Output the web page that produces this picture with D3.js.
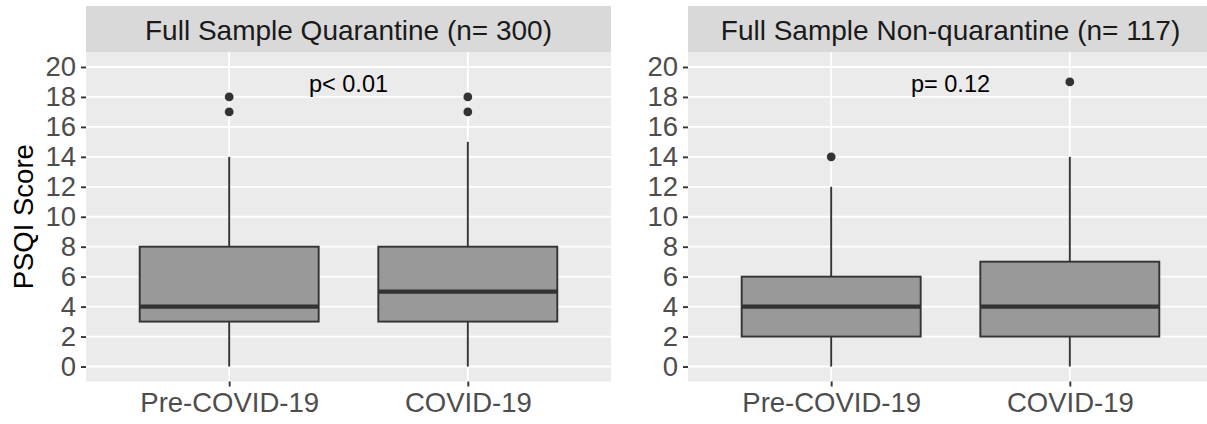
<!DOCTYPE html>
<html>
<head>
<meta charset="utf-8">
<script src="https://cdn.jsdelivr.net/npm/d3@7"></script>
<style>
  html, body { margin: 0; padding: 0; background: #ffffff; }
  svg { display: block; }
</style>
</head>
<body>
<div id="chart"></div>
<script>
// ---------- data ----------
const categories = ["Pre-COVID-19", "COVID-19"];
const panelTitles = ["Full Sample Quarantine (n= 300)", "Full Sample Non-quarantine (n= 117)"];
const pLabels = ["p< 0.01", "p= 0.12"];
const yTicks = [0, 2, 4, 6, 8, 10, 12, 14, 16, 18, 20];
const yTitle = "PSQI Score";

// Quarantine panel (per category)
const quarLow     = [0, 0];
const quarQ1      = [3, 3];
const quarMedian  = [4, 5];
const quarQ3      = [8, 8];
const quarHigh    = [14, 15];
const quarOutliers = [[17, 18], [17, 18]];

// Non-quarantine panel (per category)
const nonqLow     = [0, 0];
const nonqQ1      = [2, 2];
const nonqMedian  = [4, 4];
const nonqQ3      = [6, 7];
const nonqHigh    = [12, 14];
const nonqOutliers = [[14], [19]];

const pLabelY = 19;

// ---------- layout ----------
const W = 1207, H = 424;
const panels = [
  { x0: 86, x1: 611, title: panelTitles[0], p: pLabels[0],
    low: quarLow, q1: quarQ1, med: quarMedian, q3: quarQ3, high: quarHigh, out: quarOutliers },
  { x0: 688, x1: 1213, title: panelTitles[1], p: pLabels[1],
    low: nonqLow, q1: nonqQ1, med: nonqMedian, q3: nonqQ3, high: nonqHigh, out: nonqOutliers }
];
const stripTop = 6, stripBottom = 52, panelBottom = 381.5;

const svg = d3.select("#chart").append("svg")
  .attr("width", W).attr("height", H)
  .style("font-family", "'Liberation Sans', Arial, sans-serif");

const y = d3.scaleLinear().domain([-1, 21]).range([panelBottom, stripBottom]);

const textGrey = "#4d4d4d";
const dark = "#333333";
const lw = 1.9;

panels.forEach(pn => {
  const x = d3.scalePoint().domain(categories).range([pn.x0, pn.x1]).padding(0.6);
  const step = x.step();
  const bw = step * 0.75;
  const g = svg.append("g");

  // strip
  g.append("rect").attr("x", pn.x0).attr("y", stripTop)
    .attr("width", pn.x1 - pn.x0).attr("height", stripBottom - stripTop)
    .attr("fill", "#d9d9d9");
  g.append("text").attr("x", (pn.x0 + pn.x1) / 2).attr("y", 39.5)
    .attr("text-anchor", "middle").attr("font-size", 28).attr("fill", "#1a1a1a")
    .text(pn.title);

  // panel bg
  g.append("rect").attr("x", pn.x0).attr("y", stripBottom)
    .attr("width", pn.x1 - pn.x0).attr("height", panelBottom - stripBottom)
    .attr("fill", "#ebebeb");

  // gridlines
  g.selectAll(".hg").data(yTicks).join("line")
    .attr("x1", pn.x0).attr("x2", pn.x1)
    .attr("y1", d => y(d)).attr("y2", d => y(d))
    .attr("stroke", "#ffffff").attr("stroke-width", 1.8);
  g.selectAll(".vg").data(categories).join("line")
    .attr("x1", d => x(d)).attr("x2", d => x(d))
    .attr("y1", stripBottom).attr("y2", panelBottom)
    .attr("stroke", "#ffffff").attr("stroke-width", 1.8);

  const idx = categories.map((c, i) => i);

  // whiskers
  g.selectAll(".wl").data(idx).join("line")
    .attr("x1", i => x(categories[i])).attr("x2", i => x(categories[i]))
    .attr("y1", i => y(pn.low[i])).attr("y2", i => y(pn.q1[i]))
    .attr("stroke", dark).attr("stroke-width", lw);
  g.selectAll(".wh").data(idx).join("line")
    .attr("x1", i => x(categories[i])).attr("x2", i => x(categories[i]))
    .attr("y1", i => y(pn.q3[i])).attr("y2", i => y(pn.high[i]))
    .attr("stroke", dark).attr("stroke-width", lw);

  // boxes
  g.selectAll(".box").data(idx).join("rect")
    .attr("x", i => x(categories[i]) - bw / 2)
    .attr("width", bw)
    .attr("y", i => y(pn.q3[i]))
    .attr("height", i => y(pn.q1[i]) - y(pn.q3[i]))
    .attr("fill", "#999999").attr("stroke", dark).attr("stroke-width", lw);

  // medians
  g.selectAll(".med").data(idx).join("line")
    .attr("x1", i => x(categories[i]) - bw / 2).attr("x2", i => x(categories[i]) + bw / 2)
    .attr("y1", i => y(pn.med[i])).attr("y2", i => y(pn.med[i]))
    .attr("stroke", dark).attr("stroke-width", 4.2);

  // outliers
  const outs = [];
  pn.out.forEach((arr, i) => arr.forEach(v => outs.push({ c: categories[i], v })));
  g.selectAll(".out").data(outs).join("circle")
    .attr("cx", d => x(d.c)).attr("cy", d => y(d.v)).attr("r", 4.4)
    .attr("fill", dark);

  // p label
  g.append("text")
    .attr("x", (x(categories[0]) + x(categories[1])) / 2)
    .attr("y", y(pLabelY) + 10)
    .attr("text-anchor", "middle").attr("font-size", 23.5).attr("fill", "#000")
    .text(pn.p);

  // y axis
  const ya = g.append("g").attr("transform", `translate(${pn.x0},0)`)
    .call(d3.axisLeft(y).tickValues(yTicks).tickSize(5).tickPadding(5).tickSizeOuter(0));
  ya.select(".domain").remove();
  ya.selectAll(".tick line").attr("stroke", dark).attr("stroke-width", lw);
  ya.selectAll(".tick text").attr("font-size", 27.5).attr("fill", textGrey)
    .attr("font-family", "'Liberation Sans', Arial, sans-serif");

  // x axis
  const xa = g.append("g").attr("transform", `translate(0,${panelBottom})`)
    .call(d3.axisBottom(x).tickSize(5).tickPadding(6).tickSizeOuter(0));
  xa.select(".domain").remove();
  xa.selectAll(".tick line").attr("stroke", dark).attr("stroke-width", lw);
  xa.selectAll(".tick text").attr("font-size", 27.5).attr("fill", textGrey)
    .attr("font-family", "'Liberation Sans', Arial, sans-serif");
});

// y title
svg.append("text")
  .attr("transform", `translate(33,${(stripBottom + panelBottom) / 2}) rotate(-90)`)
  .attr("text-anchor", "middle").attr("font-size", 27.5).attr("fill", "#000")
  .text(yTitle);
</script>
</body>
</html>
